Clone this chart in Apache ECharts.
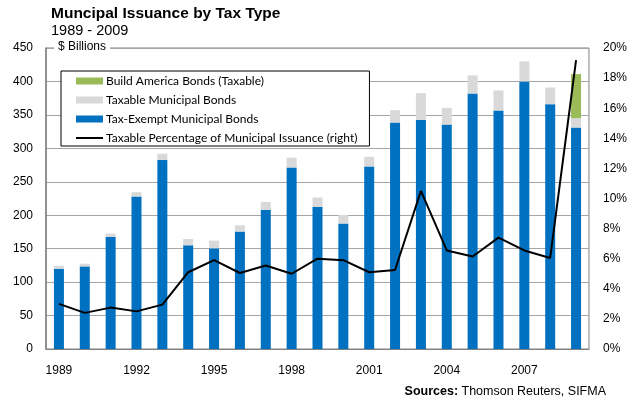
<!DOCTYPE html>
<html>
<head>
<meta charset="utf-8">
<script src="https://cdn.jsdelivr.net/npm/echarts@6/dist/echarts.min.js"></script>
<style>
  html, body { margin: 0; padding: 0; background: #fff; }
  #chart { width: 630px; height: 410px; }
</style>
</head>
<body>
<div id="chart"></div>
<script>
// Municipal issuance, $ billions, by tax type
const years = ['1989','1990','1991','1992','1993','1994','1995','1996','1997','1998','1999',
               '2000','2001','2002','2003','2004','2005','2006','2007','2008','2009'];
const taxExempt = [120, 123.5, 167.5, 228, 282.5, 155, 150.5, 175.5, 208, 271.5, 212.5,
                   187.5, 273, 338.5, 342.5, 335.5, 382, 356.5, 400, 366, 331];
const taxable   = [4.5, 4, 5, 6.5, 9.5, 9.5, 11.5, 9.5, 12, 14.5, 14,
                   13, 14.5, 18.5, 40, 25, 27, 30, 30, 25, 14];
const buildAmerica = [null, null, null, null, null, null, null, null, null, null, null,
                      null, null, null, null, null, null, null, null, null, 66];
// Taxable share of total issuance, percent (right axis)
const taxablePct = [3.0, 2.4, 2.75, 2.5, 2.95, 5.1, 5.9, 5.05, 5.55, 5.0, 6.0,
                    5.9, 5.1, 5.25, 10.5, 6.55, 6.15, 7.4, 6.55, 6.05, 19.2];

const names = {
  bab: 'Build America Bonds (Taxable)',
  tax: 'Taxable Municipal Bonds',
  exempt: 'Tax-Exempt Municipal Bonds',
  pct: 'Taxable Percentage of Municipal Issuance (right)'
};

const axisFont = { fontFamily: 'Liberation Sans, Arial, sans-serif', fontSize: 12, color: '#000' };

const chart = echarts.init(document.getElementById('chart'), null, { renderer: 'canvas' });
chart.setOption({
  animation: false,
  backgroundColor: '#fff',
  title: {
    text: 'Muncipal Issuance by Tax Type',
    subtext: '1989 - 2009',
    left: 46,
    top: 1,
    itemGap: 1,
    textStyle: { fontFamily: 'Liberation Sans, Arial, sans-serif', fontSize: 15.5, fontWeight: 'bold', color: '#000' },
    subtextStyle: { fontFamily: 'Liberation Sans, Arial, sans-serif', fontSize: 14.5, color: '#000' }
  },
  grid: {
    left: 46, right: 32, top: 48, bottom: 61,
    show: true, borderColor: '#808080', borderWidth: 1, backgroundColor: 'transparent'
  },
  legend: {
    orient: 'vertical',
    left: 61, top: 71,
    padding: [3, 12, 1, 14],
    itemGap: 5,
    itemWidth: 27, itemHeight: 7,
    backgroundColor: '#fff',
    borderColor: '#000', borderWidth: 1,
    selectedMode: false,
    textStyle: { fontFamily: 'Lato, sans-serif', fontSize: 12, color: '#000', lineHeight: 14, padding: [0, 0, 0, -2] },
    data: [
      { name: names.bab, icon: 'rect' },
      { name: names.tax, icon: 'rect' },
      { name: names.exempt, icon: 'rect' },
      { name: names.pct, itemStyle: { opacity: 0 } }
    ]
  },
  xAxis: {
    type: 'category',
    data: years,
    boundaryGap: true,
    axisLine: { lineStyle: { color: '#808080', width: 1 } },
    axisTick: { show: false },
    axisLabel: Object.assign({ interval: 2, margin: 16 }, axisFont)
  },
  yAxis: [
    {
      type: 'value', min: 0, max: 450, interval: 50,
      axisLine: { show: true, lineStyle: { color: '#808080', width: 1.5 } },
      axisTick: { show: false },
      splitLine: { lineStyle: { color: '#a6a6a6', width: 1 } },
      axisLabel: Object.assign({ margin: 13 }, axisFont)
    },
    {
      type: 'value', min: 0, max: 20, interval: 2,
      position: 'right',
      axisLine: { show: false },
      axisTick: { show: false },
      splitLine: { show: false },
      axisLabel: Object.assign({ margin: 14, formatter: '{value}%' }, axisFont)
    }
  ],
  series: [
    {
      name: names.exempt, type: 'bar', stack: 'issuance', barWidth: 10,
      itemStyle: { color: '#0070C0' }, data: taxExempt
    },
    {
      name: names.tax, type: 'bar', stack: 'issuance', barWidth: 10,
      itemStyle: { color: '#D9D9D9' }, data: taxable
    },
    {
      name: names.bab, type: 'bar', stack: 'issuance', barWidth: 10,
      itemStyle: { color: '#9BBB59' }, data: buildAmerica
    },
    {
      name: names.pct, type: 'line', yAxisIndex: 1,
      symbol: 'none', z: 5,
      lineStyle: { color: '#000', width: 2 },
      itemStyle: { color: '#000' },
      data: taxablePct
    }
  ],
  graphic: [
    {
      type: 'text', left: 54, top: 40, z: 10,
      style: {
        text: '$ Billions',
        font: '12px "Liberation Sans", Arial, sans-serif',
        fill: '#000',
        backgroundColor: '#fff',
        padding: [1, 4]
      }
    },
    {
      type: 'text', right: 24, top: 385, z: 10,
      style: {
        text: '{b|Sources:} Thomson Reuters, SIFMA',
        rich: {
          b: { font: 'bold 12.5px "Liberation Sans", Arial, sans-serif', fill: '#000' }
        },
        font: '12.5px "Liberation Sans", Arial, sans-serif',
        fill: '#000'
      }
    }
  ]
});
</script>
</body>
</html>
